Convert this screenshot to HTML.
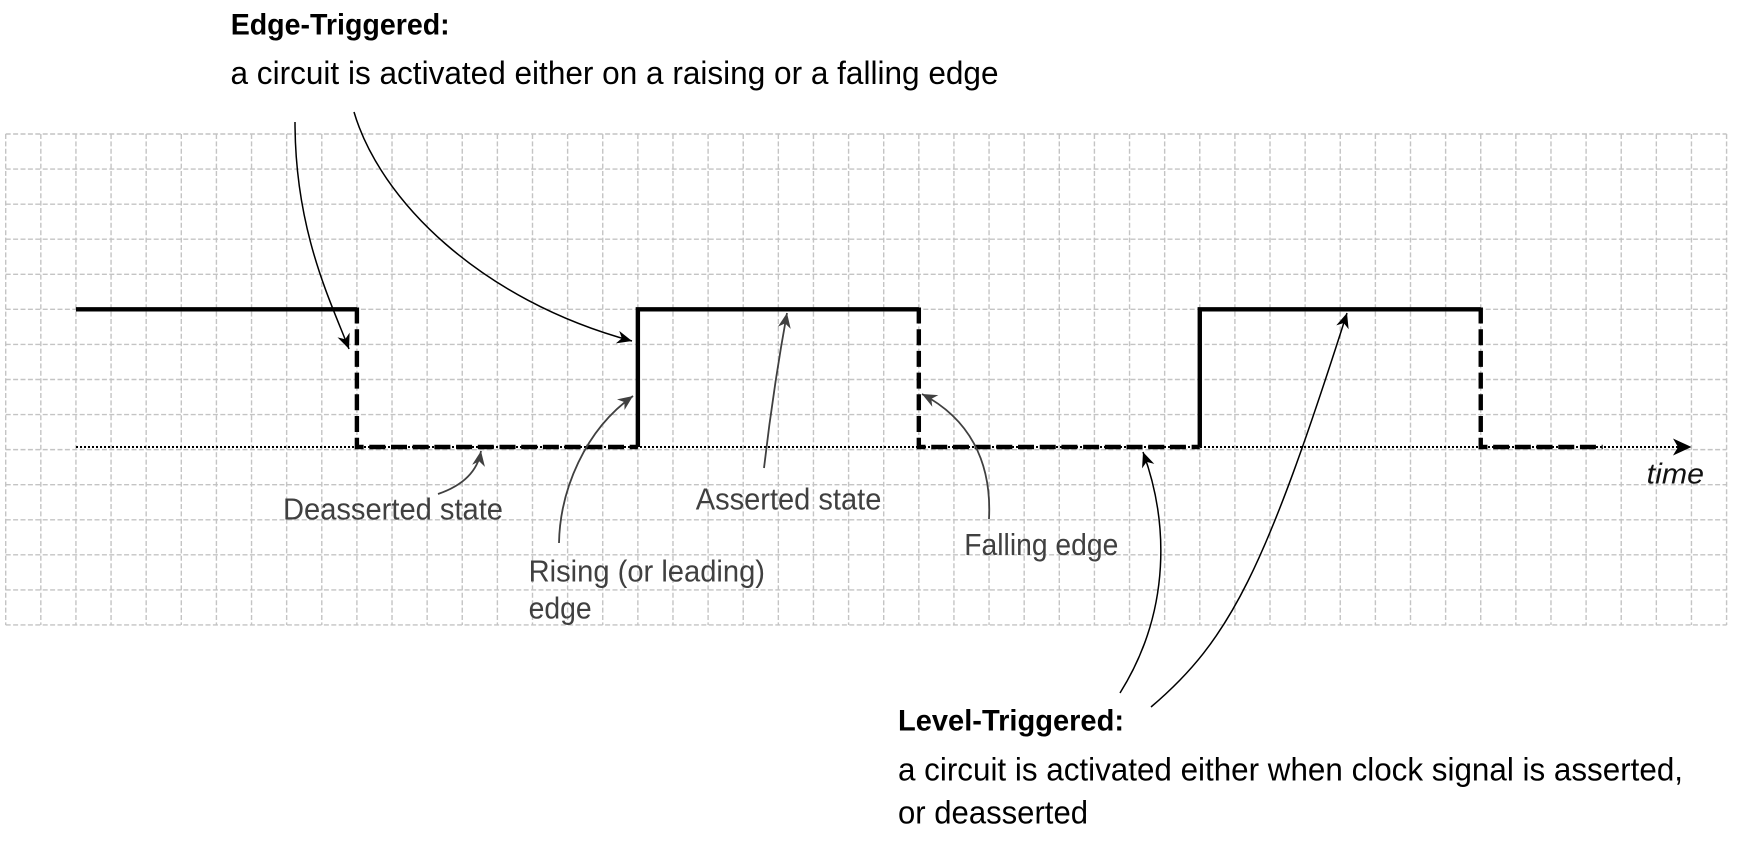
<!DOCTYPE html>
<html>
<head>
<meta charset="utf-8">
<style>
  html, body { margin: 0; padding: 0; background: #ffffff; }
  svg { display: block; }
  text { font-family: "Liberation Sans", Arial, sans-serif; }
</style>
</head>
<body>
<svg width="1737" height="862" viewBox="0 0 1737 862" xmlns="http://www.w3.org/2000/svg">
  <defs>
    <marker id="ab" viewBox="-17 -8 18 16" markerWidth="18" markerHeight="16" refX="0" refY="0" orient="auto" markerUnits="userSpaceOnUse">
      <path d="M0,0 L-15,-6.5 L-10.5,0 L-15,6.5 Z" fill="#000"/>
    </marker>
    <marker id="ag" viewBox="-17 -8 18 16" markerWidth="18" markerHeight="16" refX="0" refY="0" orient="auto" markerUnits="userSpaceOnUse">
      <path d="M0,0 L-15,-6.5 L-10.5,0 L-15,6.5 Z" fill="#404040"/>
    </marker>
  </defs>

  <rect x="0" y="0" width="1737" height="862" fill="#ffffff"/>

  <!-- Grid -->
  <g stroke="#c4c4c4" stroke-width="1.4" stroke-dasharray="5 2.4" fill="none">
    <path d="M5.7,134V625 M40.82,134V625 M75.94,134V625 M111.06,134V625 M146.18,134V625 M181.3,134V625 M216.42,134V625 M251.54,134V625 M286.66,134V625 M321.78,134V625 M356.9,134V625 M392.02,134V625 M427.14,134V625 M462.26,134V625 M497.38,134V625 M532.5,134V625 M567.62,134V625 M602.74,134V625 M637.86,134V625 M672.98,134V625 M708.1,134V625 M743.22,134V625 M778.34,134V625 M813.46,134V625 M848.58,134V625 M883.7,134V625 M918.82,134V625 M953.94,134V625 M989.06,134V625 M1024.18,134V625 M1059.3,134V625 M1094.42,134V625 M1129.54,134V625 M1164.66,134V625 M1199.78,134V625 M1234.9,134V625 M1270.02,134V625 M1305.14,134V625 M1340.26,134V625 M1375.38,134V625 M1410.5,134V625 M1445.62,134V625 M1480.74,134V625 M1515.86,134V625 M1550.98,134V625 M1586.1,134V625 M1621.22,134V625 M1656.34,134V625 M1691.46,134V625 M1726.58,134V625"/>
    <path d="M5.7,134H1726.6 M5.7,169.07H1726.6 M5.7,204.14H1726.6 M5.7,239.21H1726.6 M5.7,274.28H1726.6 M5.7,309.35H1726.6 M5.7,344.42H1726.6 M5.7,379.49H1726.6 M5.7,414.56H1726.6 M5.7,449.63H1726.6 M5.7,484.7H1726.6 M5.7,519.77H1726.6 M5.7,554.84H1726.6 M5.7,589.91H1726.6 M5.7,624.98H1726.6"/>
  </g>

  <!-- Dotted time axis -->
  <line x1="76" y1="447" x2="1680" y2="447" stroke="#000" stroke-width="2" stroke-dasharray="2 2"/>
  <path d="M1691.5,447 L1673,438.5 L1678,447 L1673,455.5 Z" fill="#000"/>

  <!-- Signal: solid parts -->
  <g stroke="#000" stroke-width="4.4" fill="none" stroke-linejoin="miter" stroke-linecap="butt">
    <path d="M75.94,309.35 H356.9"/>
    <path d="M637.86,447 V309.35 H918.82"/>
    <path d="M1199.78,447 V309.35 H1480.74"/>
  </g>
  <!-- Signal: dashed parts -->
  <g stroke="#000" stroke-width="4.4" fill="none" stroke-dasharray="16 5.7" stroke-linejoin="miter">
    <path d="M356.9,307.5 V447 H637.86"/>
    <path d="M918.82,307.5 V447 H1199.78"/>
    <path d="M1480.74,307.5 V447 H1602.7"/>
  </g>

  <!-- Black annotation arrows (Edge-triggered) -->
  <g stroke="#000" stroke-width="1.5" fill="none">
    <path d="M295,122 C295,230 330,300 349,349" marker-end="url(#ab)"/>
    <path d="M354,112 C380,200 480,300 632,341" marker-end="url(#ab)"/>
    <!-- Level-triggered -->
    <path d="M1120,693 C1172,610 1168,520 1143,452" marker-end="url(#ab)"/>
    <path d="M1151,707 C1230,640 1265,570 1347,313" marker-end="url(#ab)"/>
  </g>

  <!-- Gray label arrows -->
  <g stroke="#404040" stroke-width="1.8" fill="none">
    <path d="M438,494 Q476,481 481,451" marker-end="url(#ag)"/>
    <path d="M559,543 C560,490 585,430 633,396" marker-end="url(#ag)"/>
    <path d="M764,468 Q773,390 787,313" marker-end="url(#ag)"/>
    <path d="M989,519 C992,460 968,418 922,394" marker-end="url(#ag)"/>
  </g>

  <!-- Texts -->
  <text x="230.7" y="34.5" font-size="30" font-weight="bold" fill="#000" textLength="219" lengthAdjust="spacingAndGlyphs">Edge-Triggered:</text>
  <text x="230.5" y="84" font-size="32" fill="#000" textLength="768" lengthAdjust="spacingAndGlyphs">a circuit is activated either on a raising or a falling edge</text>

  <text x="283" y="519.5" font-size="31" fill="#404040" textLength="220" lengthAdjust="spacingAndGlyphs">Deasserted state</text>
  <text x="695.7" y="509.5" font-size="31" fill="#404040" textLength="185.7" lengthAdjust="spacingAndGlyphs">Asserted state</text>
  <text x="528.6" y="581.7" font-size="31" fill="#404040" textLength="236.4" lengthAdjust="spacingAndGlyphs">Rising (or leading)</text>
  <text x="528.6" y="618.3" font-size="31" fill="#404040" textLength="63" lengthAdjust="spacingAndGlyphs">edge</text>
  <text x="964.3" y="555" font-size="31" fill="#404040" textLength="154" lengthAdjust="spacingAndGlyphs">Falling edge</text>

  <text x="1646.7" y="483.3" font-size="29" font-style="italic" fill="#111" textLength="57.3" lengthAdjust="spacingAndGlyphs">time</text>

  <text x="898" y="730.7" font-size="30" font-weight="bold" fill="#000" textLength="226" lengthAdjust="spacingAndGlyphs">Level-Triggered:</text>
  <text x="898" y="780.7" font-size="32" fill="#000" textLength="785" lengthAdjust="spacingAndGlyphs">a circuit is activated either when clock signal is asserted,</text>
  <text x="898" y="823.3" font-size="32" fill="#000" textLength="190" lengthAdjust="spacingAndGlyphs">or deasserted</text>
</svg>
</body>
</html>
